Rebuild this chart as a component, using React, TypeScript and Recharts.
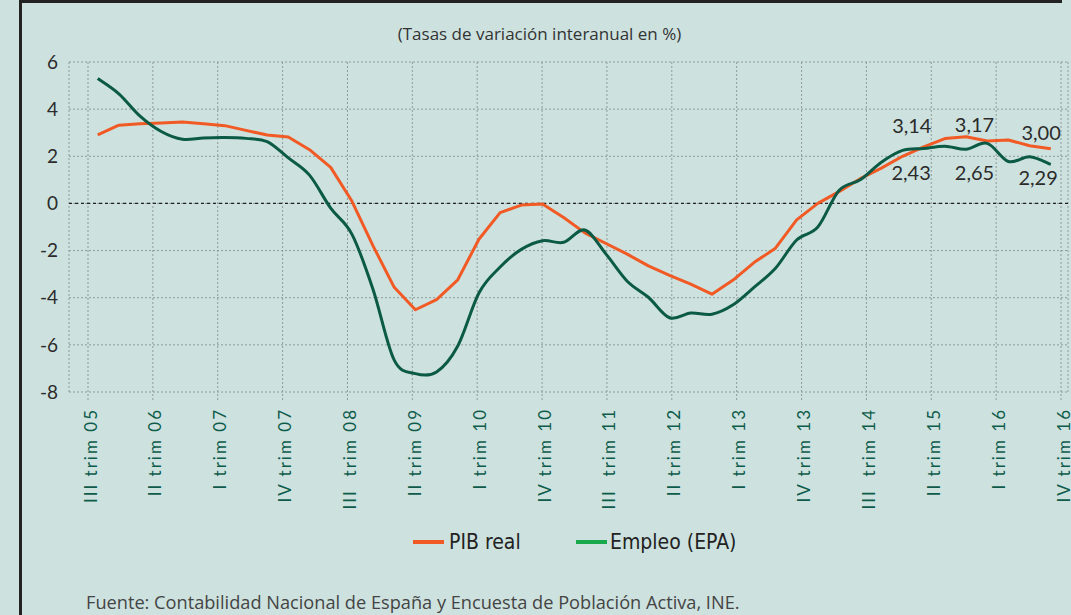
import React from 'react';
import { LineChart, Line, XAxis, YAxis, CartesianGrid, ReferenceLine, ReferenceDot, Legend } from 'recharts';

// 46 quarters: III 2005 .. IV 2016
const quarters = [
  '2005-III', '2005-IV',
  '2006-I', '2006-II', '2006-III', '2006-IV',
  '2007-I', '2007-II', '2007-III', '2007-IV',
  '2008-I', '2008-II', '2008-III', '2008-IV',
  '2009-I', '2009-II', '2009-III', '2009-IV',
  '2010-I', '2010-II', '2010-III', '2010-IV',
  '2011-I', '2011-II', '2011-III', '2011-IV',
  '2012-I', '2012-II', '2012-III', '2012-IV',
  '2013-I', '2013-II', '2013-III', '2013-IV',
  '2014-I', '2014-II', '2014-III', '2014-IV',
  '2015-I', '2015-II', '2015-III', '2015-IV',
  '2016-I', '2016-II', '2016-III', '2016-IV',
];

const pibReal = [
  2.91, 3.32, 3.38, 3.41, 3.45, 3.38, 3.30, 3.10, 2.90, 2.82,
  2.28, 1.53, 0.10, -1.80, -3.56, -4.51, -4.08, -3.24, -1.52, -0.39,
  -0.07, -0.02, -0.60, -1.25, -1.70, -2.15, -2.65, -3.05, -3.42, -3.85,
  -3.25, -2.50, -1.90, -0.70, 0.00, 0.50, 1.05, 1.50, 2.00, 2.40,
  2.75, 2.83, 2.65, 2.69, 2.45, 2.32,
];

const empleoEPA = [
  5.30, 4.65, 3.70, 3.05, 2.72, 2.78, 2.80, 2.76, 2.62, 1.93,
  1.20, -0.20, -1.30, -3.65, -6.65, -7.22, -7.15, -6.05, -3.80, -2.70,
  -1.95, -1.58, -1.65, -1.13, -2.15, -3.30, -3.98, -4.85, -4.65, -4.70,
  -4.30, -3.55, -2.75, -1.55, -1.00, 0.55, 1.00, 1.75, 2.25, 2.33,
  2.43, 2.30, 2.55, 1.78, 1.98, 1.66,
];

const tickPositions = [0, 3, 6, 9, 12, 15, 18, 21, 24, 27, 30, 33, 36, 39, 42, 45];
const tickLabels = [
  'III trim 05', 'II trim 06', 'I trim 07', 'IV trim 07',
  'III\u00a0\u00a0trim 08', 'II trim 09', 'I trim 10', 'IV trim 10',
  'III\u00a0\u00a0trim 11', 'II trim 12', 'I trim 13', 'IV trim 13',
  'III\u00a0\u00a0trim 14', 'II trim 15', 'I trim 16', 'IV trim 16',
];

const yTicks = [-8, -6, -4, -2, 0, 2, 4, 6];

const annotations = [
  { u: 38.1, v: 3.3, text: '3,14' },
  { u: 38.07, v: 1.28, text: '2,43' },
  { u: 41.0, v: 3.32, text: '3,17' },
  { u: 41.0, v: 1.28, text: '2,65' },
  { u: 44.08, v: 2.98, text: '3,00' },
  { u: 43.94, v: 1.1, text: '2,29' },
];

const data = quarters.map((q, i) => ({ q, pib: pibReal[i], empleo: empleoEPA[i] }));

const BG = '#cde2df';
const ORANGE = '#f15a24';
const GREEN = '#0b5a45';
const LEGEND_COLORS: Record<string, string> = { pib: '#f15a24', empleo: '#17a94b' };

// Catmull-Rom style smoothing (similar to spreadsheet "smoothed line")
function smoothCurve(context: any) {
  let pts: number[][] = [];
  return {
    areaStart() {},
    areaEnd() {},
    lineStart() { pts = []; },
    point(x: number, y: number) { pts.push([+x, +y]); },
    lineEnd() {
      const n = pts.length;
      if (!n) return;
      context.moveTo(pts[0][0], pts[0][1]);
      if (n === 1) return;
      for (let i = 0; i < n - 1; i++) {
        const p0 = pts[Math.max(i - 1, 0)];
        const p1 = pts[i];
        const p2 = pts[i + 1];
        const p3 = pts[Math.min(i + 2, n - 1)];
        const c1x = p1[0] + (p2[0] - p0[0]) / 6;
        const c1y = p1[1] + (p2[1] - p0[1]) / 6;
        const c2x = p2[0] - (p3[0] - p1[0]) / 6;
        const c2y = p2[1] - (p3[1] - p1[1]) / 6;
        context.bezierCurveTo(c1x, c1y, c2x, c2y, p2[0], p2[1]);
      }
    },
  };
}

const XTick = (props: any) => {
  const { x, y, payload } = props;
  const idx = tickPositions.indexOf(payload.value);
  const label = idx >= 0 ? tickLabels[idx] : '';
  return (
    <text
      transform={`translate(${x + 2},${y}) rotate(-90)`}
      textAnchor="end"
      dominantBaseline="central"
      fill="#0d5b4a"
      fontSize={17}
      fontFamily="Lato, 'Open Sans', sans-serif"
      letterSpacing={2}
    >
      {label}
    </text>
  );
};

const renderLegend = (props: any) => {
  const payload = props.payload || [];
  const layout: Record<string, { dash: number; text: number }> = {
    pib: { dash: 413, text: 449 },
    empleo: { dash: 576, text: 610 },
  };
  return (
    <div style={{ position: 'relative', width: 1071, height: 30 }}>
      {payload.map((entry: any) => {
        const key = entry.dataKey as string;
        const pos = layout[key];
        if (!pos) return null;
        return (
          <React.Fragment key={key}>
            <div style={{ position: 'absolute', left: pos.dash, top: 13, width: 31, height: 4, background: LEGEND_COLORS[key] }} />
            <div
              style={{
                position: 'absolute', left: pos.text, top: 0, height: 30, lineHeight: '30px',
                fontFamily: "'Liberation Sans Narrow', 'DejaVu Sans Condensed', Roboto, sans-serif",
                fontSize: 21, color: '#222', whiteSpace: 'nowrap',
              }}
            >
              {entry.value}
            </div>
          </React.Fragment>
        );
      })}
    </div>
  );
};

export default function App() {
  return (
    <div style={{ position: 'absolute', left: 0, top: 0, width: 1071, height: 615, background: BG, overflow: 'hidden' }}>
      {/* frame */}
      <div style={{ position: 'absolute', left: 19, top: 0, width: 1043, height: 3, background: '#222' }} />
      <div style={{ position: 'absolute', left: 19, top: 0, width: 3, height: 615, background: '#222' }} />
      <div
        style={{
          position: 'absolute', left: 0, width: 1071, top: 23, textAlign: 'center', paddingLeft: 8,
          fontFamily: "'Open Sans', sans-serif", fontSize: 17, color: '#333', lineHeight: '22px', boxSizing: 'border-box',
        }}
      >
        (Tasas de variación interanual en %)
      </div>
      <div
        style={{
          position: 'absolute', left: 86, top: 591, whiteSpace: 'nowrap',
          fontFamily: "'Open Sans', sans-serif", fontSize: 18.2, color: '#444', lineHeight: '22px',
        }}
      >
        Fuente: Contabilidad Nacional de España y Encuesta de Población Activa, INE.
      </div>
      <div style={{ position: 'absolute', left: 0, top: 0 }}>
        <LineChart width={1071} height={615} data={data} margin={{ top: 62, right: 3, left: 0, bottom: 93 }}>
          <CartesianGrid
            xAxisId="lab"
            stroke="#8f9a98"
            strokeDasharray="2 2"
            strokeWidth={1}
          />
          <XAxis
            xAxisId="data"
            dataKey="q"
            type="category"
            hide
            height={0}
            padding={{ left: 28.7, right: 17.2 }}
          />
          <XAxis
            xAxisId="lab"
            type="number"
            domain={[0, 45]}
            allowDataOverflow
            ticks={tickPositions}
            interval={0}
            padding={{ left: 19, right: 7 }}
            height={130}
            axisLine={false}
            tickSize={8}
            tickMargin={8}
            tickLine={{ stroke: '#8f9a98', strokeDasharray: '2 2' }}
            tick={<XTick />}
          />
          <YAxis
            type="number"
            domain={[-8, 6]}
            ticks={yTicks}
            interval={0}
            width={69}
            axisLine={false}
            tickLine={false}
            tickSize={0}
            tickMargin={11}
            tick={{ fill: '#2b2b2b', fontSize: 19, fontFamily: 'Lato, sans-serif' }}
          />
          <ReferenceLine xAxisId="data" y={0} stroke="#222" strokeDasharray="3 3" strokeWidth={1.2} />
          <Line
            xAxisId="data"
            dataKey="pib"
            name="PIB real"
            type="linear"
            stroke={ORANGE}
            strokeWidth={3}
            strokeLinejoin="round"
            dot={false}
            activeDot={false}
            isAnimationActive={false}
          />
          <Line
            xAxisId="data"
            dataKey="empleo"
            name="Empleo (EPA)"
            type={smoothCurve as any}
            stroke={GREEN}
            strokeWidth={3}
            dot={false}
            activeDot={false}
            isAnimationActive={false}
          />
          {annotations.map((a) => (
            <ReferenceDot
              key={a.text}
              xAxisId="lab"
              x={a.u}
              y={a.v}
              r={1}
              fill="none"
              stroke="none"
              label={{ value: a.text, position: 'center', fill: '#2b2b2b', fontSize: 20, fontFamily: 'Lato, sans-serif' }}
            />
          ))}
          <Legend
            layout="horizontal"
            verticalAlign="middle"
            align="center"
            content={renderLegend}
            wrapperStyle={{ position: 'absolute', top: 527, left: 0, width: 1071, height: 30 }}
          />
        </LineChart>
      </div>
    </div>
  );
}
